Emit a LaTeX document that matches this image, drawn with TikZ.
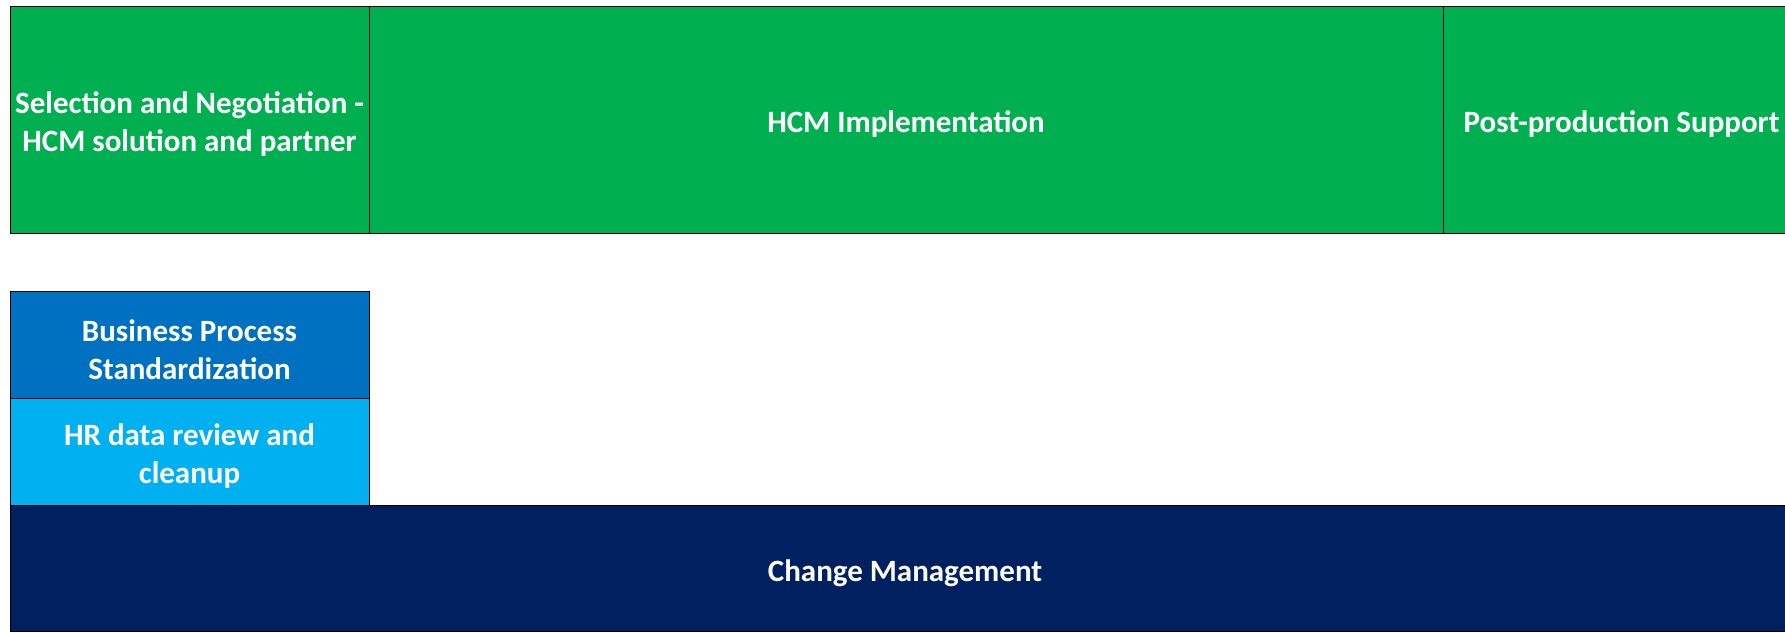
\documentclass[tikz,border=0pt]{standalone}
\usepackage{fontspec}
\setmainfont{Carlito}
\definecolor{xlgreen}{HTML}{00B050}
\definecolor{xlblue}{HTML}{0070C0}
\definecolor{xlcyan}{HTML}{00B0F0}
\definecolor{xlnavy}{HTML}{002060}
\tikzset{
  cell/.style={draw=black, line width=1pt, text=white, inner sep=0pt, outer sep=0pt,
    align=center, font=\fontsize{31}{38}\selectfont\bfseries,
    execute at begin node={\rule{0pt}{31.5pt}}},
  twolines/.style={execute at begin node={\rule{0pt}{69.5pt}}},
}

\begin{document}
\begin{tikzpicture}[x=1pt,y=-1pt]
    \clip (0,0) rectangle (1785,632);
    \fill[white] (0,0) rectangle (1785,632);
    \node[cell, twolines, fill=xlgreen, minimum width=359pt, minimum height=227pt] (sel) at (189.5,119.5) {Selection and Negotiation -\\HCM solution and partner};
    \node[cell, fill=xlgreen, minimum width=1074pt, minimum height=227pt] (impl) at (906,119.5) {HCM Implementation};
    \node[cell, fill=xlgreen, minimum width=357pt, minimum height=227pt] (post) at (1621.5,119.5) {Post-production Support};
    \node[cell, twolines, fill=xlblue, minimum width=359pt, minimum height=107pt] (bps) at (189.5,344.5) {Business Process\\Standardization};
    \node[cell, twolines, fill=xlcyan, minimum width=359pt, minimum height=107pt] (hr) at (189.5,451.5) {HR data review and\\cleanup};
    \node[cell, fill=xlnavy, minimum width=1790pt, minimum height=126pt] (chg) at (905,568) {Change Management};
\end{tikzpicture}
\end{document}
